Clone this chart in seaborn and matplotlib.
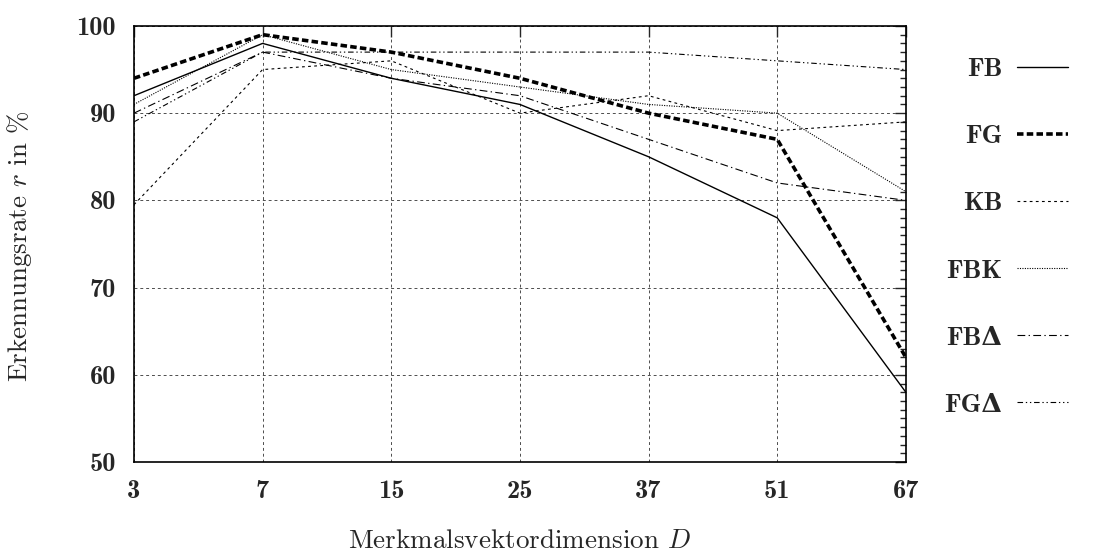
import matplotlib
matplotlib.use('Agg')
import numpy as np
import pandas as pd
import seaborn as sns
import matplotlib.pyplot as plt
from matplotlib.ticker import MultipleLocator

# Werte
dims = ['3', '7', '15', '25', '37', '51', '67']
fb = [92, 98, 94, 91, 85, 78, 58]
fg = [94, 99, 97, 94, 90, 87, 62]
kb = [79.5, 95, 96, 90, 92, 88, 89]
fbk = [91, 99, 95, 93, 91, 90, 81]
fb_delta = [90, 97, 94, 92, 87, 82, 80]
fg_delta = [89, 97, 97, 97, 97, 96, 95]
names = ['FB', 'FG', 'KB', 'FBK', 'FBΔ', 'FGΔ']

sns.set_style('white')
plt.rcParams['font.family'] = ['cmr10', 'DejaVu Serif']
plt.rcParams['mathtext.fontset'] = 'cm'
plt.rcParams['axes.unicode_minus'] = False

fig, ax = plt.subplots(figsize=(10.98, 5.52), dpi=100)
fig.subplots_adjust(left=0.122, right=0.825, bottom=0.163, top=0.953)

x = np.arange(len(dims))
series = [fb, fg, kb, fbk, fb_delta, fg_delta]
styles = [
    dict(linewidth=1.0, linestyle='-'),
    dict(linewidth=2.6, linestyle=(0, (1.8, 0.9))),
    dict(linewidth=0.8, linestyle=(0, (2.5, 3))),
    dict(linewidth=0.8, linestyle=(0, (1, 1.2))),
    dict(linewidth=0.8, linestyle=(0, (7, 3, 1.2, 3))),
    dict(linewidth=0.8, linestyle=(0, (5, 2.5, 1.2, 2.5, 1.2, 2.5))),
]
for name, vals, st in zip(names, series, styles):
    sns.lineplot(x=x, y=vals, ax=ax, color='black', label=name, **st)

ax.set_xlim(0, len(dims) - 1)
ax.set_ylim(50, 100)
ax.set_xticks(x)
ax.set_xticklabels(dims)
ax.yaxis.set_major_locator(MultipleLocator(10))
ax.yaxis.set_minor_locator(MultipleLocator(1))
ax.set_axisbelow(True)
ax.grid(True, which='major', color='0.3', linestyle=(0, (3, 3)), linewidth=0.7)

ax.tick_params(which='both', direction='in', top=True, right=True,
               labelsize=19, labelfontfamily='cmb10', width=1)
ax.tick_params(which='major', length=8)
ax.tick_params(which='minor', length=4)
ax.tick_params(axis='x', pad=13)
ax.tick_params(axis='y', pad=13)
for sp in ax.spines.values():
    sp.set_linewidth(1.2)
    sp.set_color('black')

ax.set_xlabel('Merkmalsvektordimension $D$', fontsize=19.5)
ax.set_ylabel('Erkennungsrate $r$ in %', fontsize=19.5)
ax.xaxis.set_label_coords(0.5, -0.155)
ax.yaxis.set_label_coords(-0.13, 0.495)

ax.legend(loc='upper right', bbox_to_anchor=(1068 / 1098, (552 - 58) / 552),
          bbox_transform=fig.transFigure, frameon=False, markerfirst=False,
          handlelength=1.95, handletextpad=0.55, labelspacing=1.65,
          borderaxespad=0, borderpad=0,
          prop={'family': ['cmb10', 'DejaVu Serif'], 'weight': 'bold', 'size': 19})

plt.savefig('out.png', dpi=100)
